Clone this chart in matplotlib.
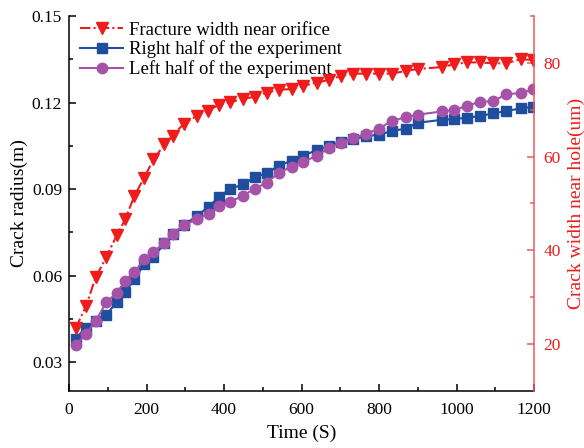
import matplotlib
matplotlib.use('Agg')
import matplotlib.pyplot as plt

plt.rcParams['font.family'] = ['Liberation Serif', 'DejaVu Serif']

# time (s)
time = [17, 44, 69, 96, 123, 145, 169, 194, 218, 246, 268, 296, 330, 360, 387,
        415, 449, 480, 510, 542, 575, 605, 639, 672, 702, 734, 766, 801, 833,
        870, 900, 962, 994, 1026, 1061, 1095, 1128, 1166, 1198]

# crack radius (m)
right_half = [0.0382, 0.0420, 0.0442, 0.0463, 0.0509, 0.0544, 0.0587, 0.0640,
              0.0663, 0.0712, 0.0744, 0.0775, 0.0806, 0.0839, 0.0872, 0.0900,
              0.0916, 0.0941, 0.0956, 0.0981, 0.0999, 0.1016, 0.1035, 0.1050,
              0.1064, 0.1073, 0.1083, 0.1089, 0.1101, 0.1110, 0.1130, 0.1140,
              0.1143, 0.1147, 0.1153, 0.1163, 0.1170, 0.1180, 0.1185]
left_half = [0.0359, 0.0397, 0.0443, 0.0507, 0.0540, 0.0581, 0.0613, 0.0656,
             0.0682, 0.0714, 0.0744, 0.0775, 0.0795, 0.0815, 0.0840, 0.0855,
             0.0877, 0.0902, 0.0922, 0.0957, 0.0978, 0.0994, 0.1016, 0.1042,
             0.1061, 0.1077, 0.1091, 0.1110, 0.1137, 0.1149, 0.1158, 0.1169,
             0.1174, 0.1188, 0.1203, 0.1204, 0.1229, 0.1233, 0.1246]

# crack width near hole (um)
width_orifice = [23.4, 28.1, 34.3, 38.5, 43.2, 46.6, 51.7, 55.5, 59.4, 62.6,
                 64.5, 67.0, 68.7, 69.8, 71.1, 71.6, 72.3, 72.8, 73.6, 74.3,
                 74.4, 75.1, 75.8, 76.4, 77.2, 77.7, 77.7, 77.7, 77.7, 78.3,
                 78.7, 79.1, 79.7, 80.1, 80.1, 79.9, 79.9, 80.8, 80.6]

red = '#EE1C1C'
blue = '#1F4E9E'
purple = '#A552A8'

fig = plt.figure(figsize=(5.84, 4.48), dpi=100)
ax1 = fig.add_axes([69 / 584, 57 / 448, 465 / 584, 375 / 448])
ax2 = ax1.twinx()

l_right, = ax1.plot(time, right_half, '-s', color=blue, lw=1.5, ms=6.5,
                    label='Right half of the experiment')
l_left, = ax1.plot(time, left_half, '-o', color=purple, lw=1.5, ms=7.5,
                   label='Left half of the experiment')
l_red, = ax2.plot(time, width_orifice, 'v', color=red, lw=1.5, ms=8.5,
                  linestyle=(0, (5, 1.5, 1, 1.5)),
                  label='Fracture width near orifice')

ax1.set_xlim(0, 1200)
ax1.set_ylim(0.02, 0.15)
ax2.set_ylim(10, 90)

ax1.set_xticks([0, 200, 400, 600, 800, 1000, 1200])
ax1.set_xticks(range(100, 1200, 200), minor=True)
ax1.set_yticks([0.03, 0.06, 0.09, 0.12, 0.15])
ax1.set_yticklabels(['0.03', '0.06', '0.09', '0.12', '0.15'])
ax1.set_yticks([0.045, 0.075, 0.105, 0.135], minor=True)
ax2.set_yticks([20, 40, 60, 80])
ax2.set_yticks([30, 50, 70, 90], minor=True)

for ax in (ax1, ax2):
    ax.spines['top'].set_visible(False)
ax1.spines['right'].set_visible(False)
ax2.spines['left'].set_visible(False)
ax2.spines['bottom'].set_visible(False)
ax2.spines['right'].set_color('#F05A5A')
for s in ('left', 'bottom'):
    ax1.spines[s].set_linewidth(1.1)
ax2.spines['right'].set_linewidth(1.1)

ax1.tick_params(which='both', direction='in', labelsize=12.5, width=1.1)
ax1.tick_params(which='major', length=5)
ax1.tick_params(which='minor', length=3)
ax1.tick_params(axis='x', pad=8)
ax1.tick_params(axis='y', pad=5)
ax2.tick_params(which='both', direction='in', labelsize=12.5, width=1.1,
                colors='#F05A5A', labelcolor=red, pad=7)
ax2.tick_params(which='major', length=5)
ax2.tick_params(which='minor', length=3)

ax1.set_xlabel('Time (S)', fontsize=14, labelpad=5)
ax1.set_ylabel('Crack radius(m)', fontsize=14, labelpad=3)
ax2.set_ylabel('Crack width near hole(um)', fontsize=14, color=red, labelpad=5)

ax2.legend(handles=[l_red, l_right, l_left], loc='upper left',
           bbox_to_anchor=(0.0, 1.015), frameon=False, fontsize=13.5,
           handlelength=2.3, handletextpad=0.3, labelspacing=0.1,
           borderaxespad=0.2)

fig.savefig('out.png', dpi=100)
